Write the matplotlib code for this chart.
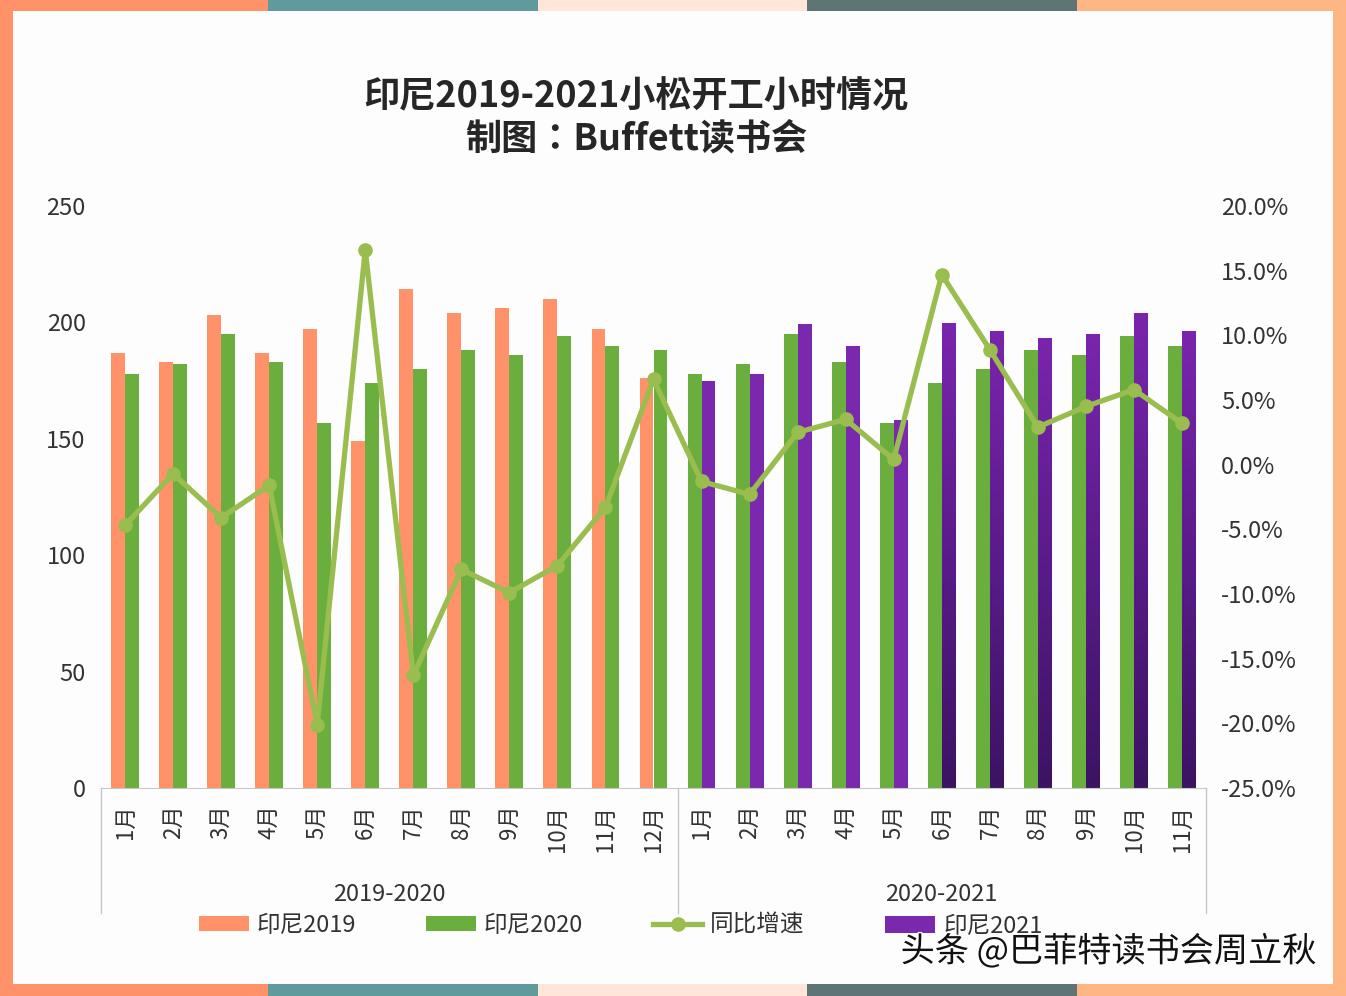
import matplotlib
matplotlib.use('Agg')
import matplotlib.pyplot as plt
import matplotlib.patheffects as pe
from matplotlib.colors import LinearSegmentedColormap
from matplotlib.patches import Rectangle
import numpy as np

plt.rcParams['font.family'] = ['Noto Sans CJK SC', 'DejaVu Sans']
plt.rcParams['axes.unicode_minus'] = False

W, H = 1346, 996

months = ['1月', '2月', '3月', '4月', '5月', '6月', '7月', '8月', '9月', '10月', '11月', '12月',
          '1月', '2月', '3月', '4月', '5月', '6月', '7月', '8月', '9月', '10月', '11月']
y2019 = [187, 183, 203, 187, 197, 149, 214.5, 204, 206, 210, 197, 176]
y2020_a = [178, 182, 195, 183, 157, 174, 180, 188, 186, 194, 190, 188]
y2020_b = [178, 182, 195, 183, 157, 174, 180, 188, 186, 194, 190]
y2021 = [175, 178, 199.5, 190, 158, 199.5, 196, 193, 195, 204, 196]
growth = [-4.7, -0.7, -4.1, -1.6, -20.1, 16.6, -16.3, -8.1, -9.9, -7.8, -3.3, 6.6,
          -1.3, -2.3, 2.5, 3.5, 0.4, 14.7, 8.9, 2.9, 4.5, 5.8, 3.2]
right_ticks = [-25, -20, -15, -10, -5, 0, 5, 10, 15, 20]

orange = '#FF9268'
green = '#6AAF3D'
purple = '#7A28AE'
line_green = '#9ABD4F'
text_col = '#333333'
axis_grey = '#C4C8CC'

fig = plt.figure(figsize=(W / 100, H / 100), dpi=100, facecolor='#FDFDFD')

# frame around the picture
strips = [(0, 268, orange), (268, 538, '#5F9A9C'), (538, 807, '#FFE6D9'),
          (807, 1077, '#5E7475'), (1077, 1346, '#FFB685')]
for x0, x1, c in strips:
    fig.add_artist(Rectangle((x0 / W, 1 - 11 / H), (x1 - x0) / W, 11 / H, transform=fig.transFigure, color=c, lw=0))
    fig.add_artist(Rectangle((x0 / W, 0), (x1 - x0) / W, 12 / H, transform=fig.transFigure, color=c, lw=0))
fig.add_artist(Rectangle((0, 0), 13 / W, 1, transform=fig.transFigure, color=orange, lw=0))
fig.add_artist(Rectangle((1 - 13 / W, 0), 13 / W, 1, transform=fig.transFigure, color='#FFB685', lw=0))

ax = fig.add_axes([101 / W, 1 - 788 / H, (1206 - 101) / W, (788 - 206) / H])
ax.patch.set_alpha(0)
ax2 = ax.twinx()
ax2.patch.set_alpha(0)

bw = 0.29
xa = np.arange(12)
xb = np.arange(12, 23)
b1 = ax.bar(xa - bw / 2, y2019, bw, color=orange, label='印尼2019')
b2 = ax.bar(xa + bw / 2, y2020_a, bw, color=green, label='印尼2020')
ax.bar(xb - bw / 2, y2020_b, bw, color=green)
b4 = ax.bar(xb + bw / 2, y2021, bw, color=purple, label='印尼2021')

# the last six purple bars fade to dark towards the bottom
fade = LinearSegmentedColormap.from_list('fade', ['#3C1362', '#5A1B8A', '#7A25AC'])
grad = np.linspace(1, 0, 256).reshape(-1, 1)
for p in list(b4)[5:]:
    ax.imshow(grad, cmap=fade, aspect='auto', zorder=p.get_zorder() + 0.1,
              extent=[p.get_x(), p.get_x() + p.get_width(), 0, p.get_height()])

ax.set_xlim(-0.5, 22.5)
ax.set_ylim(0, 250)
ax.set_yticks([0, 50, 100, 150, 200, 250])
ax.set_xticks(range(23))
ax.set_xticklabels(months, rotation=90, fontsize=16, color=text_col)
ax.tick_params(axis='x', length=0, pad=12)
ax.tick_params(axis='y', length=0, pad=11, labelsize=17, labelcolor=text_col)
for s in ['top', 'left', 'right']:
    ax.spines[s].set_visible(False)
ax.spines['bottom'].set_color(axis_grey)

l, = ax2.plot(range(23), growth, color=line_green, lw=3.8, marker='o', ms=9.5, label='同比增速')
ax2.set_ylim(-25, 20)
ax2.set_yticks(right_ticks)
ax2.set_yticklabels(['%.1f%%' % v for v in right_ticks])
ax2.tick_params(axis='y', length=0, pad=11, labelsize=17, labelcolor=text_col)
for s in ['top', 'left', 'right', 'bottom']:
    ax2.spines[s].set_visible(False)

# group separators and names under the months
low = -125 / 582
for x in [-0.5, 11.5, 22.5]:
    ax.plot([x, x], [0, low], color=axis_grey, lw=1, clip_on=False, transform=ax.get_xaxis_transform())
ax.text(5.5, -106 / 582, '2019-2020', ha='center', va='center', fontsize=17, color=text_col,
        transform=ax.get_xaxis_transform())
ax.text(17, -106 / 582, '2020-2021', ha='center', va='center', fontsize=17, color=text_col,
        transform=ax.get_xaxis_transform())

fig.legend([b1, b2, l], ['印尼2019', '印尼2020', '同比增速'],
           loc='center left', bbox_to_anchor=(199 / W, 1 - 925 / H), ncol=3, frameon=False,
           fontsize=17, handlelength=2.1, handleheight=0.6, handletextpad=0.33,
           columnspacing=2.97, labelcolor=text_col, borderpad=0, borderaxespad=0)
fig.legend([b4], ['印尼2021'],
           loc='center left', bbox_to_anchor=(885 / W, 1 - 926 / H), frameon=False,
           fontsize=17, handlelength=2.1, handleheight=0.75, handletextpad=0.38,
           labelcolor=text_col, borderpad=0, borderaxespad=0)

fig.text(636 / W, 1 - 118 / H, '印尼2019-2021小松开工小时情况\n制图：Buffett读书会', ha='center', va='center',
         fontsize=26, fontweight='bold', color='#262626', linespacing=1.2,
         family=['Noto Sans CJK TC', 'DejaVu Sans'])

fig.text(1316 / W, 1 - 952 / H, '头条 @巴菲特读书会周立秋', ha='right', va='center', fontsize=24.6, color='#111111',
         path_effects=[pe.withStroke(linewidth=2, foreground='white')], zorder=10)

fig.savefig('out.png', dpi=100, facecolor=fig.get_facecolor())
